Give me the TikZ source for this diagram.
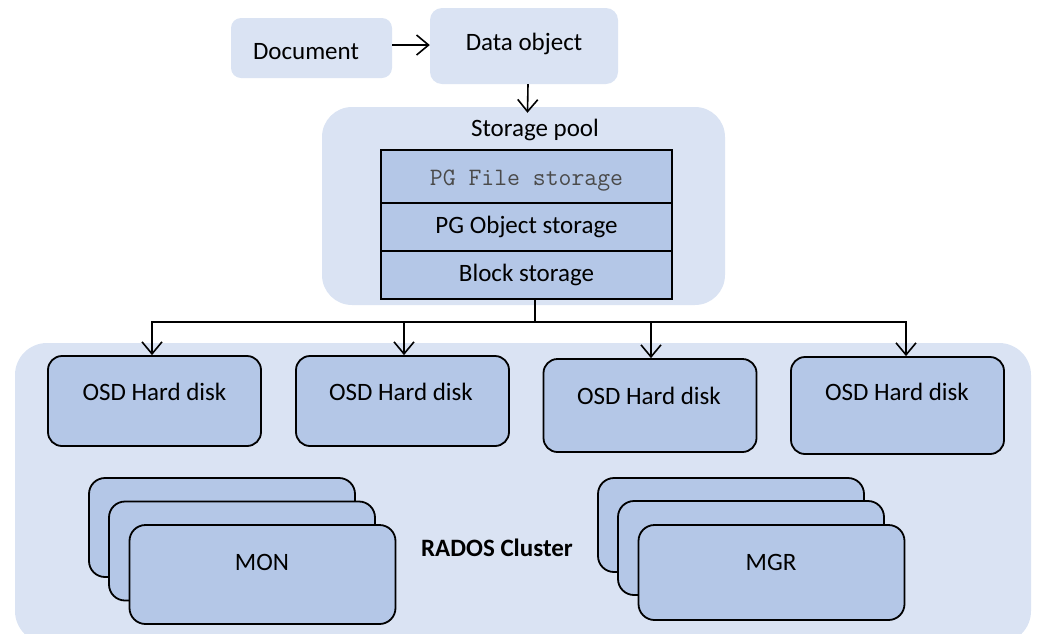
\documentclass[tikz,border=0pt]{standalone}
\usepackage{fontspec}
\setmainfont{Carlito}
\usetikzlibrary{arrows.meta}
\definecolor{paleblue}{HTML}{DAE3F3}
\definecolor{midblue}{HTML}{B4C7E7}
\definecolor{greytext}{HTML}{4A4A4A}
\tikzset{
  panel/.style={fill=paleblue, rounded corners=#1, inner sep=0pt},
  panel/.default=10pt,
  layer/.style={draw=black, line width=1.8pt, fill=midblue, minimum width=291pt, inner sep=0pt},
  disk/.style={draw=black, line width=1.8pt, fill=midblue, rounded corners=14pt,
    minimum width=213pt, inner sep=0pt},
  card/.style={draw=black, line width=1.8pt, fill=midblue, rounded corners=16pt,
    minimum width=266pt, minimum height=99pt, inner sep=0pt},
  label/.style={font=\fontsize{25}{28}\selectfont, text=black},
  arr/.style={line width=1.6pt, -{Straight Barb[length=12pt,width=20pt,line width=1.6pt]}},
  link/.style={line width=1.8pt}
}
\begin{document}
\begin{tikzpicture}[x=1pt,y=-1pt]
\useasboundingbox (0,0) rectangle (1037,633);

% top row
\node[panel=10pt, minimum width=161pt, minimum height=60pt] (doc) at (311.5,48) {};
\node[label] at (306,52) {Document};
\node[panel=12pt, minimum width=188pt, minimum height=76pt] (dobj) at (524,46) {};
\node[label] at (524,44) {Data object};
\draw[arr] (doc.east) ++(0,-3) -- ([yshift=1pt]dobj.west);

% storage pool
\node[panel=30pt, minimum width=403pt, minimum height=198pt] (pool) at (523.5,206) {};
\node[label] at (535,130) {Storage pool};
\draw[arr] ([xshift=4pt]dobj.south) -- ([xshift=4pt,yshift=-6pt]pool.north);

\node[layer, minimum height=53pt] (file) at (526.5,176.5) {};
\node[font=\ttfamily\fontsize{25}{28}\selectfont, text=greytext] at (526.5,181) {PG File storage};
\node[layer, minimum height=48pt] (obj) at (526.5,227) {};
\node[label] at (526.5,227) {PG Object storage};
\node[layer, minimum height=48pt] (blk) at (526.5,275) {};
\node[label] at (526.5,275) {Block storage};

% cluster
\node[panel=32pt, minimum width=1016pt, minimum height=300pt] (rados) at (523,493) {};
\node[label, font=\bfseries\fontsize{25}{28}\selectfont] at (497,548) {RADOS Cluster};

\node[disk, minimum height=90pt] (osd1) at (154.5,401) {};
\node[label] at (154.5,392) {OSD Hard disk};
\node[disk, minimum height=90pt] (osd2) at (402.5,401) {};
\node[label] at (401,392) {OSD Hard disk};
\node[disk, minimum height=93pt] (osd3) at (650,405.5) {};
\node[label] at (649,396) {OSD Hard disk};
\node[disk, minimum height=97pt] (osd4) at (897.5,405.5) {};
\node[label] at (897,392) {OSD Hard disk};

% distribution lines
\coordinate (split) at (535,322);
\draw[link] (blk.south -| split) -- (split);
\draw[arr] (split) -| ([xshift=-2.5pt]osd1.north);
\draw[arr] (split) -| ([xshift=1.5pt]osd2.north);
\draw[arr] (split) -| ([xshift=1pt]osd3.north);
\draw[arr] (split) -| ([xshift=8.5pt]osd4.north);

% monitor stack
\node[card] (monc) at (222,527.5) {};
\node[card] (monb) at (242,551) {};
\node[card] (mona) at (262.5,574.5) {};
\node[label] at (262,562) {MON};

% manager stack
\node[card, minimum height=94pt] (mgrc) at (731,525) {};
\node[card, minimum height=94pt] (mgrb) at (751,548) {};
\node[card, minimum height=95pt] (mgra) at (771.5,572.5) {};
\node[label] at (771,562) {MGR};
\end{tikzpicture}
\end{document}
